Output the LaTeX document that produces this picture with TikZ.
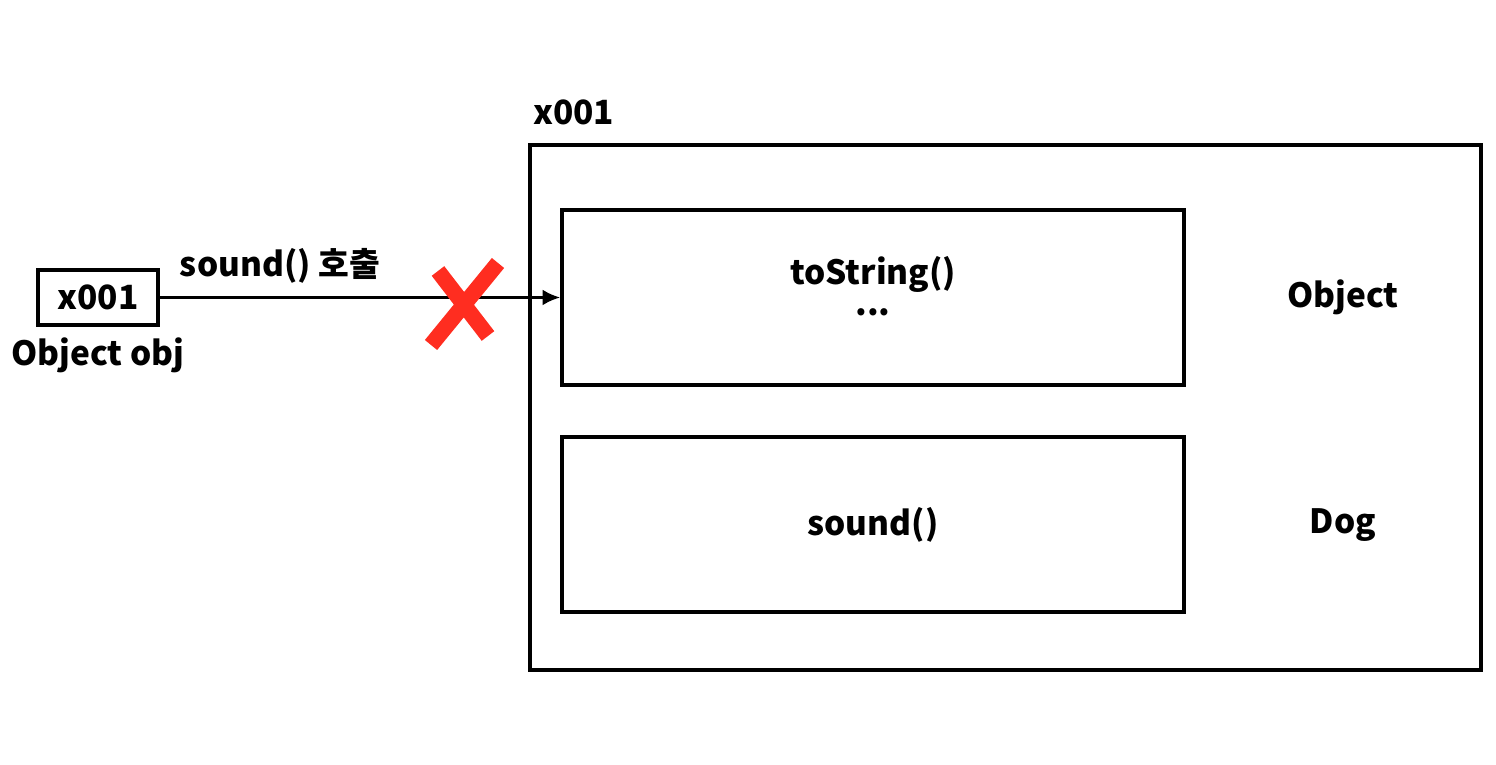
\documentclass[tikz,border=0pt]{standalone}
\usepackage{fontspec}
\setmainfont{Noto Sans CJK KR}
\usetikzlibrary{arrows.meta}
\tikzset{
  membox/.style={draw,line width=2pt,inner sep=0,minimum width=12.44cm,minimum height=3.5cm},
  lbl/.style={inner sep=0,font=\fontsize{19}{23}\selectfont\bfseries},
}
\begin{document}
\begin{tikzpicture}
\useasboundingbox (0,0) rectangle (29.92,15.3);
\node[draw,line width=2pt,minimum width=19.02cm,minimum height=10.5cm] (heap) at (20.11,7.15) {};
\node[lbl,anchor=west] (addr) at (10.66,13.06) {x001};
\node[membox] (objpart) at (17.46,9.35) {};
\node[lbl] (tostr) at (17.46,9.82) {toString()};
\node[lbl,text height=0.1cm,text depth=0pt] (dots) at (17.46,9.04) {...};
\node[membox,lbl] (dogpart) at (17.46,4.81) {sound()};
\node[lbl] (objname) at (26.86,9.36) {Object};
\node[lbl] (dogname) at (26.86,4.8) {Dog};
\node[draw,line width=2pt,minimum width=2.4cm,minimum height=1.1cm,lbl] (ref) at (1.96,9.35) {x001};
\node[lbl] (refname) at (1.96,8.2) {Object obj};
\draw[line width=1.7pt,-{Latex[length=10pt,width=9pt]}] (ref) -- (objpart) node[pos=0.3,above=7pt,lbl] (call) {sound() 호출};
\coordinate (xa) at (8.76,9.88);
\coordinate (xb) at (9.76,8.58);
\coordinate (xc) at (9.96,10.04);
\coordinate (xd) at (8.62,8.4);
\draw[line width=9pt,color={rgb,255:red,255;green,45;blue,32}] (xa) -- (xb) (xc) -- (xd);
\end{tikzpicture}
\end{document}
